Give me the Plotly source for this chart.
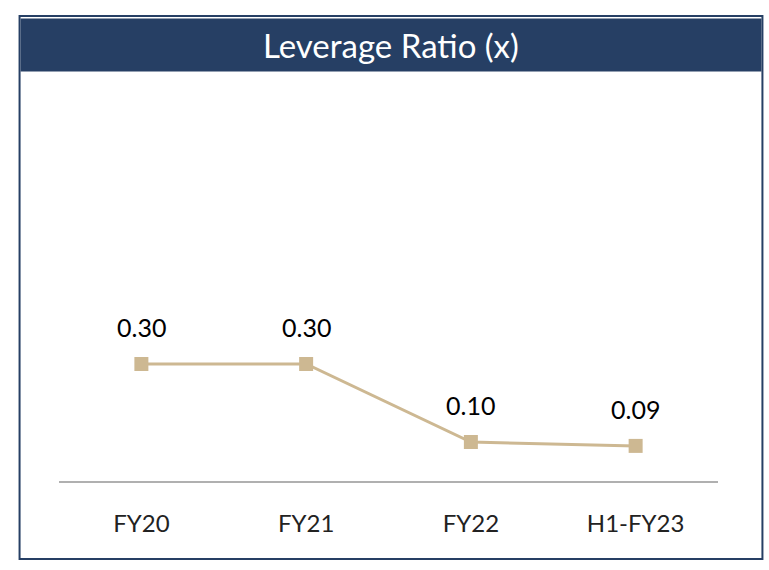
import plotly.graph_objects as go

categories = ["FY20", "FY21", "FY22", "H1-FY23"]
values = [0.30, 0.30, 0.10, 0.09]
value_labels = ["0.30", "0.30", "0.10", "0.09"]
title_text = "Leverage Ratio (x)"

W, H = 769, 570
L, R = 58.5, 718.5
T, B = 91, 481
pw, ph = R - L, B - T

def px_x(p):
    return (p - L) / pw

def px_y(p):
    return (B - p) / ph

navy = "#263F64"
tan = "#CDB892"
font_fam = "Lato, Open Sans, sans-serif"

fig = go.Figure()
fig.add_trace(go.Scatter(
    x=categories, y=values, mode="lines+markers",
    line=dict(color=tan, width=3),
    marker=dict(symbol="square", size=14, color=tan),
    hoverinfo="skip", showlegend=False,
))

for c, v, lab in zip(categories, values, value_labels):
    fig.add_annotation(x=c, y=v, text=lab, showarrow=False, yshift=37,
                       font=dict(family=font_fam, size=25, color="#000000"))

shapes = [
    dict(type="rect", xref="paper", yref="paper",
         x0=px_x(20), x1=px_x(762), y0=px_y(71.5), y1=px_y(18.5),
         fillcolor=navy, line=dict(width=0), layer="below"),
    dict(type="rect", xref="paper", yref="paper",
         x0=px_x(19), x1=px_x(763), y0=px_y(559), y1=px_y(16),
         fillcolor="rgba(0,0,0,0)", line=dict(color=navy, width=2)),
]

fig.add_annotation(xref="paper", yref="paper", x=px_x(391.5), y=px_y(45),
                   text=title_text, showarrow=False, xanchor="center", yanchor="middle",
                   font=dict(family=font_fam, size=33, color="#FFFFFF"))

fig.update_layout(
    width=W, height=H,
    margin=dict(l=L, r=W - R, t=T, b=H - B, pad=0),
    paper_bgcolor="white", plot_bgcolor="white",
    shapes=shapes,
    xaxis=dict(type="category", range=[-0.5, 3.5], showgrid=False, zeroline=False,
               showline=True, linecolor="#B0B0B0", linewidth=2,
               ticks="outside", ticklen=20, tickcolor="rgba(0,0,0,0)",
               tickfont=dict(family=font_fam, size=24, color="#222222")),
    yaxis=dict(range=[0, 1.0], visible=False, showgrid=False, zeroline=False),
)

page_fix = ("document.body.style.margin='0';"
            "document.body.style.overflow='hidden';"
            "document.documentElement.style.overflow='hidden';")

fig.write_html("out.html", post_script=page_fix, config={"displayModeBar": False})
